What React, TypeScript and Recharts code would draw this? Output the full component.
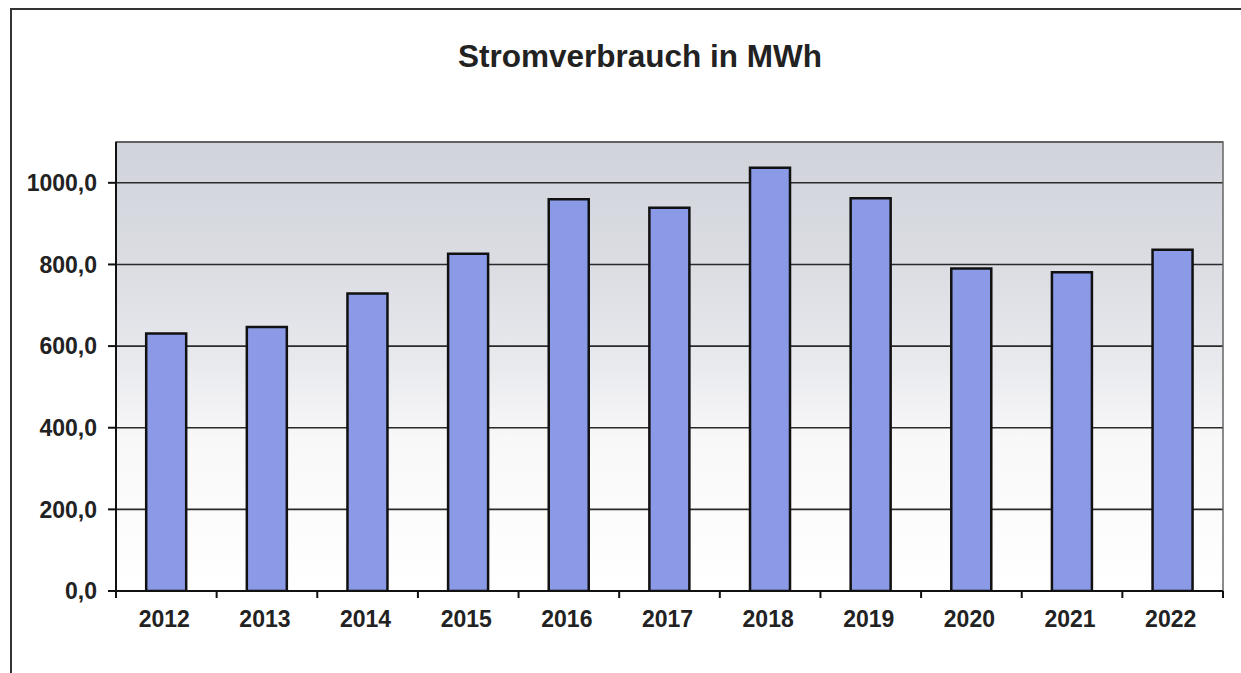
import {
  BarChart,
  Bar,
  XAxis,
  YAxis,
  CartesianGrid,
  ReferenceArea,
} from "recharts";

const years = ["2012", "2013", "2014", "2015", "2016", "2017", "2018", "2019", "2020", "2021", "2022"];
const consumption = [631, 647, 729, 826, 960, 939, 1037, 962, 790, 781, 836];
const yTicks = [0, 200, 400, 600, 800, 1000];

const data = years.map((year, i) => ({ year, value: consumption[i] }));

const FONT = "'Liberation Sans', Arial, Helvetica, sans-serif";
const INK = "#222";

const fmt = (v: number) => v.toFixed(1).replace(".", ",");

// tick marks sit on the category boundaries, labels in the middle
const YearTick = (props: any) => {
  const { x, y, payload, index, visibleTicksCount } = props;
  const half = payload?.offset || 50.3;
  return (
    <g>
      <line x1={x - half} y1={y} x2={x - half} y2={y + 7} stroke="#111" strokeWidth={2} />
      {index === visibleTicksCount - 1 && (
        <line x1={x + half} y1={y} x2={x + half} y2={y + 7} stroke="#111" strokeWidth={2} />
      )}
      <text
        x={x - 2}
        y={y + 28}
        textAnchor="middle"
        dominantBaseline="central"
        fontFamily={FONT}
        fontWeight="bold"
        fontSize={23}
        fill={INK}
      >
        {payload.value}
      </text>
    </g>
  );
};

export default function App() {
  return (
    <div style={{ position: "absolute", left: 0, top: 0, width: 1241, height: 673, background: "#fff", overflow: "hidden" }}>
      <div
        style={{
          position: "absolute",
          left: 10,
          top: 8,
          width: 1300,
          height: 700,
          borderTop: "2px solid #333",
          borderLeft: "2px solid #333",
        }}
      />
      <div
        style={{
          position: "absolute",
          left: 0,
          width: 1241,
          top: 38,
          textAlign: "center",
          fontFamily: FONT,
          fontWeight: "bold",
          fontSize: 31.5,
          color: INK,
          paddingLeft: 39,
          boxSizing: "border-box",
        }}
      >
        Stromverbrauch in MWh
      </div>
      <div style={{ position: "absolute", left: 0, top: 0 }}>
        <BarChart
          width={1241}
          height={673}
          data={data}
          margin={{ top: 142, right: 18, left: 0, bottom: 42 }}
          barCategoryGap="30%"
        >
          <defs>
            <linearGradient id="plotBg" x1="0" y1="0" x2="0" y2="1">
              <stop offset="0%" stopColor="#d0d3da" />
              <stop offset="30%" stopColor="#dcdee4" />
              <stop offset="50%" stopColor="#e9eaee" />
              <stop offset="66%" stopColor="#f8f8f9" />
              <stop offset="100%" stopColor="#ffffff" />
            </linearGradient>
          </defs>
          <CartesianGrid
            vertical={false}
            stroke="#2a2a2a"
            strokeWidth={1.6}
            fill="url(#plotBg)"
          />
          <ReferenceArea y1={0} y2={1100} fill="none" stroke="#666" strokeWidth={1.5} ifOverflow="visible" />
          <XAxis
            dataKey="year"
            height={40}
            tickLine={false}
            tickSize={0}
            tickMargin={0}
            axisLine={{ stroke: "#111", strokeWidth: 2 }}
            tick={<YearTick />}
            interval={0}
          />
          <YAxis
            width={116}
            domain={[0, 1100]}
            ticks={yTicks}
            tickFormatter={fmt}
            tickSize={8}
            tickMargin={11}
            tickLine={{ stroke: "#111", strokeWidth: 2 }}
            axisLine={{ stroke: "#111", strokeWidth: 2 }}
            tick={{ fontFamily: FONT, fontWeight: "bold", fontSize: 23, fill: INK }}
            allowDataOverflow
          />
          <Bar
            dataKey="value"
            fill="#8a9ae6"
            stroke="#111"
            strokeWidth={2.5}
            isAnimationActive={false}
          />
        </BarChart>
      </div>
    </div>
  );
}
